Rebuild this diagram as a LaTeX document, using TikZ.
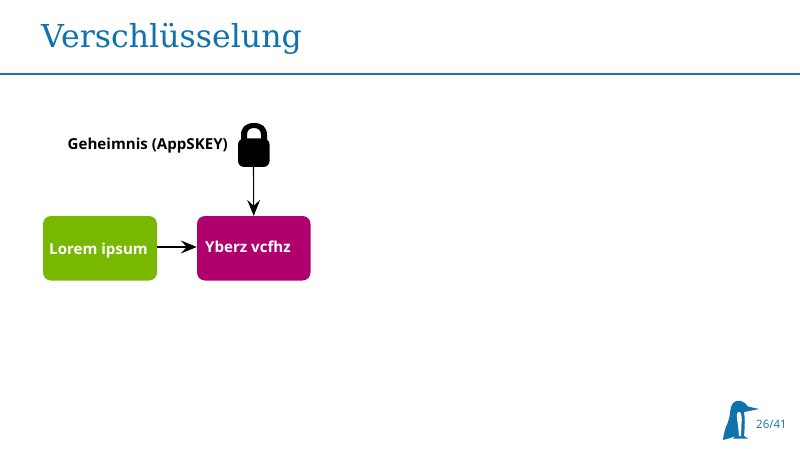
\documentclass[tikz,border=0pt]{standalone}
\usepackage{fontspec}
\setmainfont{Open Sans}
\newfontfamily\slabfont{DejaVu Serif}
\usetikzlibrary{arrows.meta}
\definecolor{brandblue}{HTML}{0F72AC}
\definecolor{rulecol}{HTML}{1F76A6}
\definecolor{boxgreen}{HTML}{78B800}
\definecolor{boxmag}{HTML}{B0006E}
\tikzset{
  labelfont/.style={font=\fontsize{15.1}{18}\selectfont\bfseries},
  textbox/.style={rounded corners=8pt,inner sep=0pt,minimum height=64.5pt},
  flow/.style={draw=black,line width=1.1pt,-{Stealth[length=16pt,width=13pt,inset=6pt]}}
}
\begin{document}
\begin{tikzpicture}[x=1pt,y=-1pt]
\useasboundingbox (0,0) rectangle (800,449);
\fill[white] (0,0) rectangle (800,449);
\node[anchor=base west,inner sep=0pt,text=brandblue,font=\fontsize{31.6}{36}\selectfont\slabfont] (title) at (41,48) {Verschlüsselung};
\fill[rulecol] (0,73) rectangle (800,75);
\node[textbox,fill=boxgreen,minimum width=114pt] (plain) at (100,248.25) {};
\node[anchor=base,inner sep=0pt,text=white,labelfont] (plaintext) at (98.5,254) {Lorem ipsum};
\node[textbox,fill=boxmag,minimum width=113.5pt] (cipher) at (253.75,248.25) {};
\node[anchor=base west,inner sep=0pt,text=white,labelfont] (ciphertext) at (205,252) {Yberz vcfhz};
\node[anchor=base east,inner sep=0pt,labelfont] (secret) at (228,149.5) {Geheimnis (AppSKEY)};
% padlock
\node[minimum width=31pt,minimum height=44pt,inner sep=0pt] (lock) at (253.5,145) {};
\fill[black,even odd rule] (241,142) -- (241,135) .. controls (241,127) and (246,123) .. (254,123) .. controls (262,123) and (267,127) .. (267,135) -- (267,142) -- cycle
  (247,142) -- (247,135) .. controls (247,130) and (250,128) .. (254,128) .. controls (258,128) and (261,130) .. (261,135) -- (261,142) -- cycle;
\fill[black,rounded corners=6pt] (238,138.5) rectangle (269.5,167);
\draw[flow] (lock.south) -- (cipher.north);
\draw[flow] (plain.east |- 0,247) -- (cipher.west |- 0,247);
% penguin logo
\fill[brandblue] (759,409) -- (748,406.5) .. controls (745,401) and (737,398.5) .. (733,403)
  .. controls (729,408) and (731,415) .. (728,422) .. controls (726,427) and (724,431) .. (723,440)
  .. controls (727,439) and (731,438) .. (735,436) -- (733,438.5) -- (748,438.5) -- (744,436)
  .. controls (745,426) and (745,418) .. (744,412) -- cycle;
\fill[white] (738,412) .. controls (736,414) and (737,420) .. (738,425) -- (739,436) -- (741,436) -- (741.5,424) .. controls (742,419) and (742,414) .. (740,412) -- cycle;
\node[anchor=base west,inner sep=0pt,text=brandblue,font=\fontsize{11.5}{13}\selectfont] (page) at (756,428) {26/41};
\end{tikzpicture}
\end{document}
